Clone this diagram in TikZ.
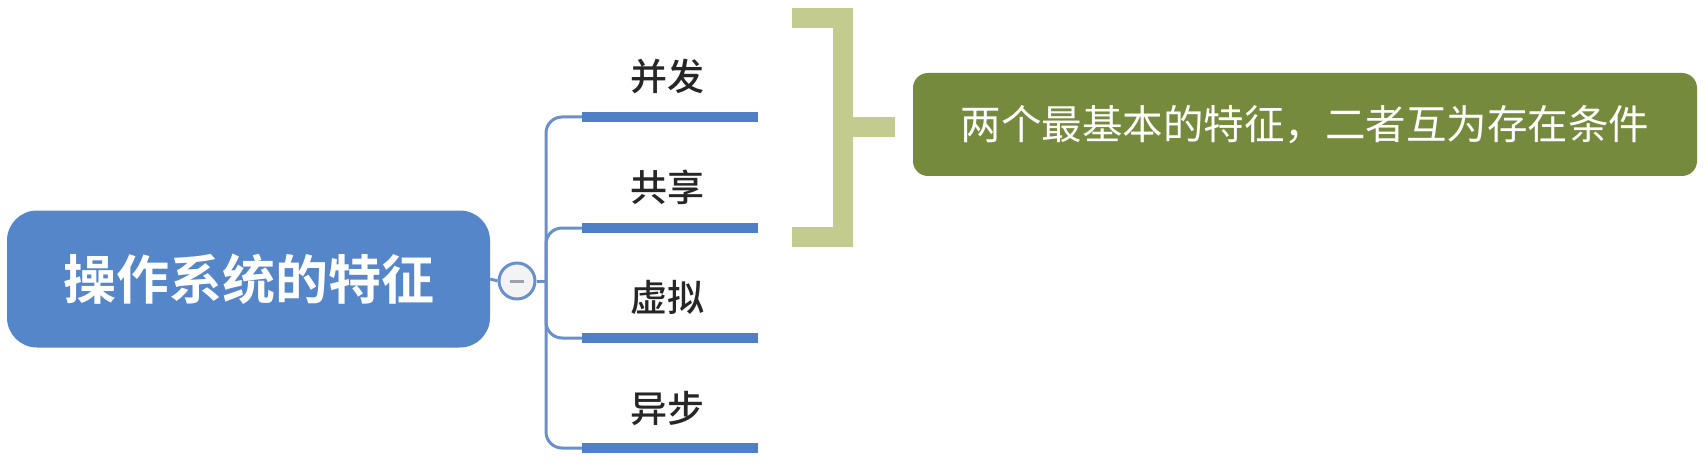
\documentclass[tikz,border=0pt]{standalone}
\usepackage{fontspec}
\newfontfamily\cjk{Noto Sans CJK SC}[BoldFont={Noto Sans CJK SC Bold}]
\newfontfamily\cjkmed{Noto Sans CJK SC Medium}
\definecolor{rootblue}{HTML}{5586C9}
\definecolor{lineblue}{HTML}{4F80C6}
\definecolor{thinblue}{HTML}{6A90CC}
\definecolor{bracketgreen}{HTML}{C3CB8F}
\definecolor{noteolive}{HTML}{768A3E}
\definecolor{colfill}{HTML}{F3F3F6}
\definecolor{coldash}{HTML}{9EA0AA}
\tikzset{
  rootbox/.style={fill=rootblue, rounded corners=30pt, minimum width=483pt, minimum height=137pt, inner sep=0pt, text=white, font=\cjk\bfseries\fontsize{53}{60}\selectfont},
  notebox/.style={fill=noteolive, rounded corners=15pt, minimum width=784pt, minimum height=103pt, inner sep=0pt, text=white, font=\cjk\fontsize{40.5}{46}\selectfont},
  collapse/.style={circle, draw=thinblue, line width=3pt, fill=colfill, minimum size=36pt, inner sep=0pt},
  branchlbl/.style={anchor=base, inner sep=0pt, text=black!85, font=\cjkmed\fontsize{37}{42}\selectfont},
  branchline/.style={draw=lineblue, line width=10pt},
  conn/.style={draw=thinblue, line width=3pt, rounded corners=16pt},
  bracketbar/.style={draw=bracketgreen, line width=20pt, miter limit=10}
}
\begin{document}
\begin{tikzpicture}[x=1pt, y=-1pt]
\useasboundingbox[fill=white] (0,0) rectangle (1707,465);
% root
\node[rootbox] (root) at (248.5,279) {操作系统的特征};
\node[collapse] (col) at (517,281) {};
\draw[coldash, line width=3pt] ([xshift=-7pt]col.center) -- ([xshift=7pt]col.center);
\coordinate (hub) at (546,281);
% branches
\coordinate (b1s) at (582,117); \coordinate (b1e) at (758,117);
\coordinate (b2s) at (582,228); \coordinate (b2e) at (758,228);
\coordinate (b3s) at (582,338); \coordinate (b3e) at (758,338);
\coordinate (b4s) at (582,448); \coordinate (b4e) at (758,448);
\draw[conn] (root.east) -- (col.west);
\draw[conn] (col.east) -- (hub);
\draw[conn] (hub) |- (b1s);
\draw[conn] (hub) |- (b2s);
\draw[conn] (hub) |- (b3s);
\draw[conn] (hub) |- (b4s);
\draw[branchline] (b1s) -- (b1e);
\draw[branchline] (b2s) -- (b2e);
\draw[branchline] (b3s) -- (b3e);
\draw[branchline] (b4s) -- (b4e);
\node[branchlbl] (l1) at (667.5,91) {并发};
\node[branchlbl] (l2) at (667.5,201) {共享};
\node[branchlbl] (l3) at (667.5,311) {虚拟};
\node[branchlbl] (l4) at (667.5,422) {异步};
% bracket
\coordinate (bt) at (792,18.5);
\coordinate (bb) at (792,237);
\coordinate (bm) at (842.5,127);
\coordinate (bs) at (895,127);
\draw[bracketbar] (bt) -- (842.5,18.5) -- (842.5,237) -- (bb);
\draw[bracketbar] (bm) -- (bs);
\node[notebox] (note) at (1305,124.5) {两个最基本的特征，二者互为存在条件};
\end{tikzpicture}
\end{document}
